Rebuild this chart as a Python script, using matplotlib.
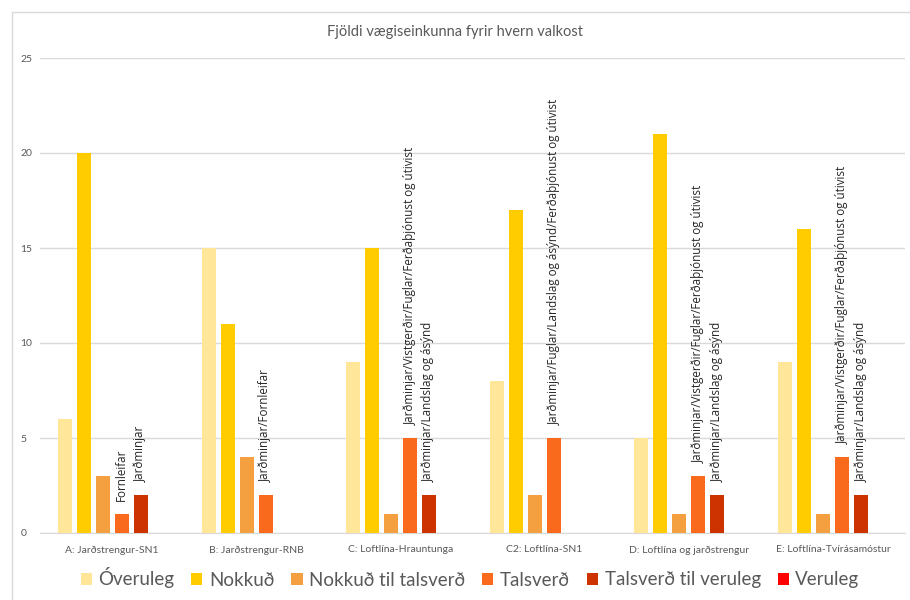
import matplotlib.pyplot as plt
import numpy as np
from matplotlib.patches import Rectangle

# valkostir
categories = [
    "A: Jarðstrengur-SN1",
    "B: Jarðstrengur-RNB",
    "C: Loftlína-Hrauntunga",
    "C2: Loftlína-SN1",
    "D: Loftlína og jarðstrengur",
    "E: Loftlína-Tvírásamóstur",
]

series_names = [
    "Óveruleg",
    "Nokkuð",
    "Nokkuð til talsverð",
    "Talsverð",
    "Talsverð til veruleg",
    "Veruleg",
]
colors = ["#FFE699", "#FFCC00", "#F4A040", "#FA6A1C", "#CC3300", "#FF0000"]

overuleg = [6, 15, 9, 8, 5, 9]
nokkud = [20, 11, 15, 17, 21, 16]
nokkud_til_talsverd = [3, 4, 1, 2, 1, 1]
talsverd = [1, 2, 5, 5, 3, 4]
talsverd_til_veruleg = [2, 0, 2, 0, 2, 2]
veruleg = [0, 0, 0, 0, 0, 0]

# skýringar fyrir ofan súlur
talsverd_labels = [
    "Fornleifar",
    "Jarðminjar/Fornleifar",
    "Jarðminjar/Vistgerðir/Fuglar/Ferðaþjónust og útivist",
    "Jarðminjar/Fuglar/Landslag og ásýnd/Ferðaþjónust og útivist",
    "Jarðminjar/Vistgerðir/Fuglar/Ferðaþjónust og útivist",
    "Jarðminjar/Vistgerðir/Fuglar/Ferðaþjónust og útivist",
]
ttv_labels = [
    "Jarðminjar",
    "",
    "Jarðminjar/Landslag og ásýnd",
    "",
    "Jarðminjar/Landslag og ásýnd",
    "Jarðminjar/Landslag og ásýnd",
]

plt.rcParams["font.family"] = ["Lato", "DejaVu Sans"]

fig = plt.figure(figsize=(9.1, 6), dpi=100)
fig.patches.append(
    Rectangle((12 / 910, -0.01), 1.0, 1 - 12 / 600 + 0.01, transform=fig.transFigure,
              facecolor="white", edgecolor="#d9d9d9", linewidth=1.0, zorder=-5)
)
ax = fig.add_axes([40 / 910, 67 / 600, 865 / 910, 475 / 600])
ax.set_facecolor("none")

all_series = [overuleg, nokkud, nokkud_til_talsverd, talsverd, talsverd_til_veruleg, veruleg]
x = np.arange(len(categories))
n = len(all_series)
slot = 0.79 / n
width = slot * 0.74

for i, (name, vals, c) in enumerate(zip(series_names, all_series, colors)):
    pos = x - 0.395 + slot * (i + 0.5)
    ax.bar(pos, vals, width, color=c, label=name, linewidth=0, zorder=3)
    if i == 3:
        for p, v, t in zip(pos, vals, talsverd_labels):
            if t:
                ax.text(p, v + 0.7, t, rotation=90, ha="center", va="bottom",
                        fontsize=8.4, color="#262626", family="Open Sans", zorder=4)
    if i == 4:
        for p, v, t in zip(pos, vals, ttv_labels):
            if t:
                ax.text(p, v + 0.7, t, rotation=90, ha="center", va="bottom",
                        fontsize=8.4, color="#262626", family="Open Sans", zorder=4)

ax.set_xlim(-0.5, len(categories) - 0.5)
ax.set_ylim(0, 25)
ax.set_yticks([0, 5, 10, 15, 20, 25])
ax.set_xticks(x)
ax.set_xticklabels(categories)
ax.tick_params(axis="both", length=0, labelsize=7.5, labelcolor="#595959")
ax.tick_params(axis="x", pad=9)
ax.tick_params(axis="y", pad=14)
for lbl in ax.get_yticklabels():
    lbl.set_horizontalalignment("left")
ax.grid(axis="y", color="#d9d9d9", linewidth=1, zorder=0)
for s in ["top", "right", "left"]:
    ax.spines[s].set_visible(False)
ax.spines["bottom"].set_color("#d9d9d9")

fig.text(0.5, 1 - 32 / 600, "Fjöldi vægiseinkunna fyrir hvern valkost",
         ha="center", va="center", fontsize=10.5, color="#595959")

fig.legend(loc="center", bbox_to_anchor=(470 / 910, 1 - 578 / 600), ncol=6, frameon=False,
           fontsize=13.5, handlelength=0.6, handleheight=0.6, handletextpad=0.35,
           columnspacing=0.9, labelcolor="#595959")

fig.savefig("out.png", dpi=100)
